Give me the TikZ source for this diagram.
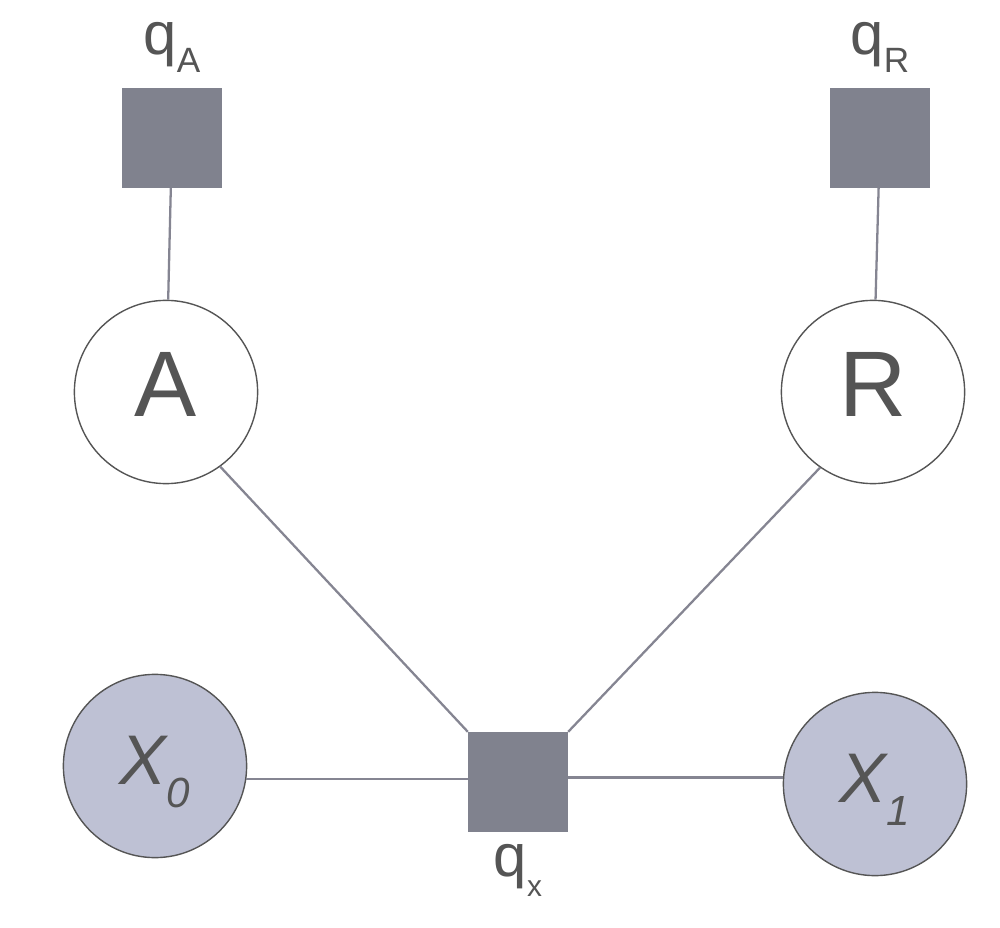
\documentclass[tikz,border=0pt]{standalone}
\usepackage{fontspec}
\setmainfont{Liberation Sans}
\usetikzlibrary{positioning}
\definecolor{inkGray}{HTML}{555555}
\definecolor{factorGray}{HTML}{80828E}
\definecolor{edgeGray}{HTML}{858592}
\definecolor{obsBlue}{HTML}{BEC1D4}

\tikzset{
  factor/.style={rectangle, fill=factorGray, draw=none, minimum size=56.7pt, inner sep=0pt},
  latent/.style={circle, draw=inkGray, line width=0.8pt, fill=white, minimum size=104.3pt,
    inner sep=0pt, text=inkGray, font=\fontsize{53}{53}\selectfont, text height=28.3pt, text depth=0pt},
  observed/.style={latent, fill=obsBlue, font=\fontsize{40}{40}\selectfont\itshape, text height=21pt},
  edge/.style={draw=edgeGray, line width=1.3pt},
  flabel/.style={inner sep=0pt, text=inkGray}
}
\newcommand{\qname}[2]{{\fontsize{34}{34}\selectfont q}\raisebox{-#2}{\fontsize{20}{20}\selectfont #1}}

\begin{document}
\begin{tikzpicture}[x=0.02cm, y=-0.02cm]
  \useasboundingbox (0,0) rectangle (1000,928);
  % factors
  \node[factor] (qA) at (172,138) {};
  \node[factor] (qR) at (880,138) {};
  \node[factor] (qx) at (518,782) {};
  \node[flabel, above=8.5pt of qA] (qAlabel) {\qname{A}{10pt}};
  \node[flabel, above=8.5pt of qR] (qRlabel) {\qname{R}{10pt}};
  \node[flabel, below=7pt of qx] (qxlabel) {{\fontsize{34}{34}\selectfont q}\raisebox{-11pt}{\fontsize{17}{17}\selectfont x}};
  % variables
  \node[latent] (A) at (166,392) {A};
  \node[latent] (R) at (873,392) {R};
  \node[observed] (X0) at (155,766) {X\raisebox{-13pt}{\fontsize{24}{24}\selectfont 0}};
  \node[observed] (X1) at (875,784) {X\raisebox{-13pt}{\fontsize{24}{24}\selectfont 1}};
  % edges
  \draw[edge] (qA) -- (A);
  \draw[edge] (qR) -- (R);
  \draw[edge] (A.-54) -- (qx.north west);
  \draw[edge] (R.-125) -- (qx.north east);
  \draw[edge] (X0.-8) -- (X0.-8 -| qx.west);
  \draw[edge] (qx.east |- X1.176) -- (X1.176);
\end{tikzpicture}
\end{document}
